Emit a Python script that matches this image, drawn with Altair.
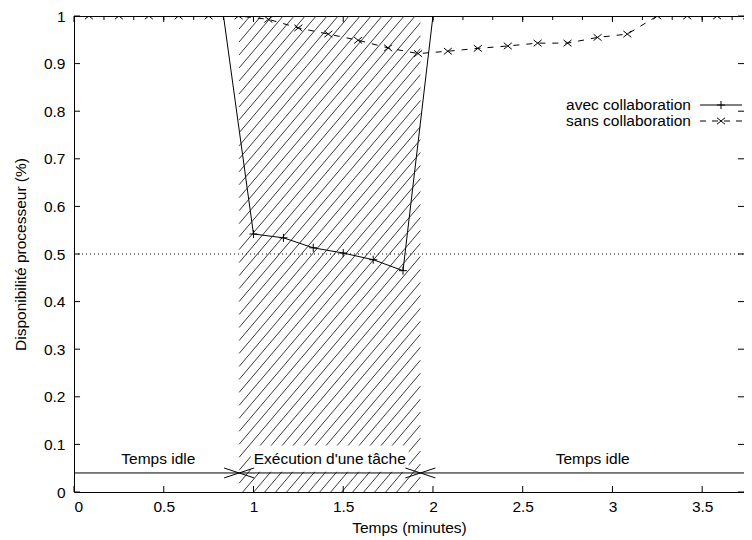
import altair as alt
import pandas as pd
import numpy as np

# ---------------- data ----------------
series_names = ["avec collaboration", "sans collaboration"]

avec_t = [0.0, 0.167, 0.333, 0.5, 0.667, 0.833, 1.0, 1.167, 1.333, 1.5, 1.667, 1.833,
          2.0, 2.167, 2.333, 2.5, 2.667, 2.833, 3.0, 3.167, 3.333, 3.5, 3.667, 3.833]
avec_v = [1, 1, 1, 1, 1, 1, 0.542, 0.534, 0.513, 0.502, 0.488, 0.465,
          1, 1, 1, 1, 1, 1, 1, 1, 1, 1, 1, 1]

sans_t = [0.083, 0.25, 0.417, 0.583, 0.75, 0.917, 1.083, 1.25, 1.417, 1.583, 1.75, 1.917,
          2.083, 2.25, 2.417, 2.583, 2.75, 2.917, 3.083, 3.25, 3.417, 3.583, 3.75]
sans_v = [1, 1, 1, 1, 1, 1, 0.993, 0.975, 0.962, 0.949, 0.933, 0.921,
          0.926, 0.932, 0.937, 0.943, 0.943, 0.955, 0.962, 1, 1, 1, 1]

task_interval = [0.92, 1.93]          # exécution d'une tâche
reference_level = [0.5]
timeline_level = [0.04]
label_texts = ["Temps idle", "Exécution d'une tâche", "Temps idle"]
label_t = [0.47, 1.425, 2.89]
label_v = [0.07, 0.07, 0.07]

x_ticks = [0, 0.5, 1, 1.5, 2, 2.5, 3, 3.5]
y_ticks = [0, 0.1, 0.2, 0.3, 0.4, 0.5, 0.6, 0.7, 0.8, 0.9, 1]

# ---------------- geometry ----------------
W, H = 670, 476
XMAX = 3.733
FONT = "Liberation Sans"
FS = 15.5

xs = alt.Scale(domain=[0, XMAX], nice=False, zero=False)
ys = alt.Scale(domain=[0, 1], nice=False, zero=False)

x_axis = alt.Axis(values=x_ticks, format="~g", title="Temps (minutes)",
                  grid=False, ticks=False, tickSize=0, domain=False,
                  labelPadding=7, titlePadding=6)
y_axis = alt.Axis(values=y_ticks, format="~g", title="Disponibilité processeur (%)",
                  grid=False, ticks=False, tickSize=0, domain=False,
                  labelPadding=9, titlePadding=15)

df_avec = pd.DataFrame({"t": avec_t, "v": avec_v})
df_sans = pd.DataFrame({"t": sans_t, "v": sans_v})

# hatch lines inside the task interval (decorative pattern, clipped to the box)
pxx = W / XMAX
x0p, x1p = task_interval[0] * pxx, task_interval[1] * pxx
slope = 1.18
spacing = 11.0
rows = []
c = x0p - H / slope
while c < x1p:
    lo = max(0.0, slope * (x0p - c))
    hi = min(float(H), slope * (x1p - c))
    if hi > lo:
        rows.append({"t": (c + lo / slope) / pxx, "v": lo / H,
                     "t2": (c + hi / slope) / pxx, "v2": hi / H})
    c += spacing
df_hatch = pd.DataFrame(rows)

df_labels = pd.DataFrame({"t": label_t, "v": label_v, "txt": label_texts})
df_arrow = pd.DataFrame({"t": task_interval, "v": timeline_level * 2})


def X(f="t"):
    return alt.X(f, type="quantitative", scale=xs, axis=x_axis)


def Y(f="v"):
    return alt.Y(f, type="quantitative", scale=ys, axis=y_axis)


hatch = alt.Chart(df_hatch).mark_rule(color="#222", strokeWidth=0.9, clip=True).encode(
    x=X(), y=Y(), x2="t2", y2="v2")

white_box = alt.Chart(df_labels.iloc[[1]]).mark_point(
    shape="M-1,-0.167H1V0.167H-1Z", filled=True, fill="white", opacity=1,
    strokeWidth=0, size=158 ** 2).encode(x=X(), y=Y())

ref = alt.Chart(pd.DataFrame({"v": reference_level})).mark_rule(
    color="black", strokeWidth=1, strokeDash=[1, 3]).encode(
    y=Y(), x=alt.value(0), x2=alt.value(W))

line_avec = alt.Chart(df_avec).mark_line(color="black", strokeWidth=1, clip=True).encode(
    x=X(), y=Y())
pts_avec = alt.Chart(df_avec).mark_point(
    shape="M-1,0H1M0,-1V1", size=64, color="black", strokeWidth=1, clip=True,
    opacity=1).encode(x=X(), y=Y())

line_sans = alt.Chart(df_sans).mark_line(color="black", strokeWidth=1, strokeDash=[6, 7],
                                         clip=True).encode(x=X(), y=Y())
pts_sans = alt.Chart(df_sans).mark_point(
    shape="M-1,-0.8L1,0.8M-1,0.8L1,-0.8", size=64, color="black", strokeWidth=1,
    clip=True, opacity=1).encode(x=X(), y=Y())

timeline = alt.Chart(pd.DataFrame({"v": timeline_level})).mark_rule(
    color="black", strokeWidth=1).encode(y=Y(), x=alt.value(0), x2=alt.value(W))

head_r = alt.Chart(df_arrow).mark_point(
    shape="M-1,-0.33L0,0L-1,0.33", size=900, color="black", strokeWidth=1,
    opacity=1).encode(x=X(), y=Y())
head_l = alt.Chart(df_arrow).mark_point(
    shape="M1,-0.33L0,0L1,0.33", size=900, color="black", strokeWidth=1,
    opacity=1).encode(x=X(), y=Y())

labels = alt.Chart(df_labels).mark_text(font=FONT, fontSize=FS, color="black",
                                        align="center", baseline="middle").encode(
    x=X(), y=Y(), text="txt:N")

# inward ticks (gnuplot style)
df_xt = pd.DataFrame({"t": x_ticks})
df_yt = pd.DataFrame({"v": y_ticks})
xt_bottom = alt.Chart(df_xt).mark_rule(color="black").encode(
    x=X(), y=alt.value(H), y2=alt.value(H - 6))
xt_top = alt.Chart(df_xt).mark_rule(color="black").encode(
    x=X(), y=alt.value(0), y2=alt.value(6))
yt_left = alt.Chart(df_yt).mark_rule(color="black").encode(
    y=Y(), x=alt.value(0), x2=alt.value(6))
yt_right = alt.Chart(df_yt).mark_rule(color="black").encode(
    y=Y(), x=alt.value(W - 6), x2=alt.value(W))

# key (gnuplot style: text right-aligned, sample on the right)
legend_layers = []
key_y = [89, 105]
for i, name in enumerate(series_names):
    d = pd.DataFrame({"name": [name]})
    legend_layers.append(alt.Chart(d).mark_text(
        font=FONT, fontSize=FS, color="black", align="right", baseline="middle").encode(
        x=alt.value(617), y=alt.value(key_y[i]), text="name:N"))
    legend_layers.append(alt.Chart(d).mark_rule(
        color="black", strokeWidth=1, strokeDash=([1, 0] if i == 0 else [6, 6])).encode(
        x=alt.value(626), x2=alt.value(668), y=alt.value(key_y[i])))
    legend_layers.append(alt.Chart(d).mark_point(
        shape=("M-1,0H1M0,-1V1" if i == 0 else "M-1,-0.8L1,0.8M-1,0.8L1,-0.8"),
        size=64, color="black", strokeWidth=1, opacity=1).encode(
        x=alt.value(647), y=alt.value(key_y[i])))

chart = alt.layer(
    line_avec, hatch, white_box, ref, line_sans, pts_avec, pts_sans,
    timeline, head_r, head_l, labels, xt_bottom, xt_top, yt_left, yt_right,
    *legend_layers
).properties(
    width=W, height=H,
    padding={"left": 66, "top": 8, "right": 0, "bottom": 48},
    autosize=alt.AutoSizeParams(type="none"),
    background="white",
).configure_view(
    stroke="black", strokeWidth=1
).configure_axis(
    labelFont=FONT, labelFontSize=FS, labelColor="black",
    titleFont=FONT, titleFontSize=FS, titleColor="black", titleFontWeight="normal",
)

chart.save("out.html", embed_options={"renderer": "svg", "actions": False})
